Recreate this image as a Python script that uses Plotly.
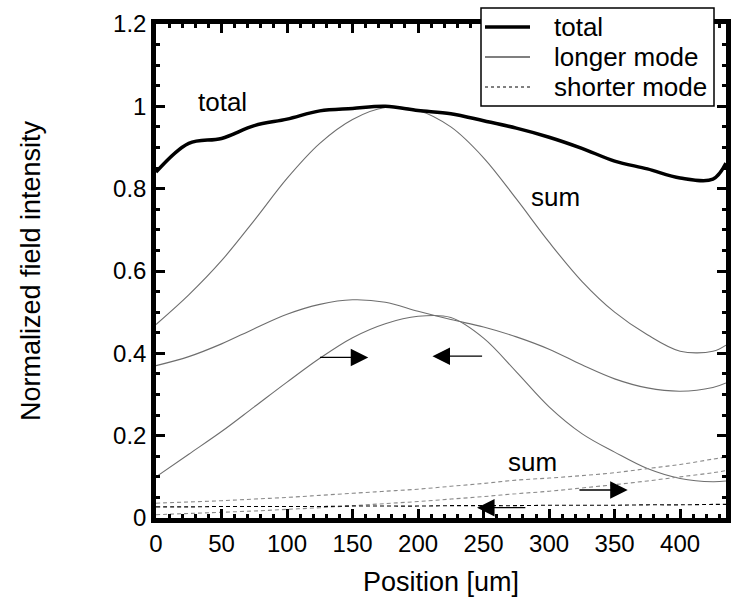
import plotly.graph_objects as go

# ---- data ----
pos = [0, 25, 50, 75, 100, 125, 150, 175, 200, 225, 250, 275, 300, 325, 350, 375, 400, 425, 435]

total = [0.84, 0.91, 0.922, 0.953, 0.969, 0.989, 0.995, 1.0, 0.99, 0.982, 0.965, 0.947, 0.925, 0.898,
         0.867, 0.848, 0.826, 0.823, 0.862]

longer_sum = [0.47, 0.542, 0.625, 0.723, 0.825, 0.91, 0.968, 0.997, 0.99, 0.95, 0.875, 0.775, 0.67, 0.575,
              0.50, 0.445, 0.405, 0.405, 0.42]
longer_fwd = [0.37, 0.392, 0.423, 0.46, 0.495, 0.519, 0.53, 0.524, 0.502, 0.482, 0.464, 0.44, 0.41, 0.372,
              0.338, 0.316, 0.308, 0.317, 0.328]
longer_bwd = [0.10, 0.155, 0.21, 0.27, 0.33, 0.388, 0.438, 0.472, 0.49, 0.487, 0.437, 0.355, 0.27, 0.205,
              0.16, 0.12, 0.096, 0.088, 0.09]

shorter_sum = [0.036, 0.039, 0.042, 0.046, 0.05, 0.055, 0.06, 0.065, 0.07, 0.077, 0.084, 0.092, 0.097,
               0.103, 0.11, 0.12, 0.13, 0.143, 0.148]
shorter_fwd = [0.008, 0.011, 0.014, 0.017, 0.021, 0.025, 0.03, 0.035, 0.04, 0.046, 0.052, 0.059, 0.065,
               0.073, 0.081, 0.09, 0.10, 0.11, 0.115]
shorter_bwd = [0.027, 0.027, 0.028, 0.028, 0.028, 0.028, 0.029, 0.029, 0.029, 0.030, 0.030, 0.030, 0.031,
               0.031, 0.031, 0.032, 0.032, 0.033, 0.033]

# arrows: tail x, head x, y
arrow_tail_x = [124, 250, 322, 283]
arrow_head_x = [162, 211, 360, 245]
arrow_y = [0.39, 0.393, 0.068, 0.025]

# text labels
label_text = ["total", "sum", "sum"]
label_x = [50.6, 305, 287]
label_y = [1.01, 0.78, 0.137]

legend_names = ["total", "longer mode", "shorter mode"]
x_ticks = [0, 50, 100, 150, 200, 250, 300, 350, 400]
y_ticks = [0, 0.2, 0.4, 0.6, 0.8, 1.0, 1.2]
y_tick_text = ["0", "0.2", "0.4", "0.6", "0.8", "1", "1.2"]

FONT = "Liberation Sans, Arial, sans-serif"
GRAY = "#6e6e6e"

fig = go.Figure()

for ys in (longer_sum, longer_fwd, longer_bwd):
    fig.add_trace(go.Scatter(x=pos, y=ys, mode="lines", line=dict(color=GRAY, width=1.1, shape="spline"),
                             showlegend=False, hoverinfo="skip"))
for ys, col in ((shorter_sum, "#8a8a8a"), (shorter_fwd, "#8a8a8a"), (shorter_bwd, "black")):
    fig.add_trace(go.Scatter(x=pos, y=ys, mode="lines",
                             line=dict(color=col, width=1.1, dash="4px,3px", shape="spline"),
                             showlegend=False, hoverinfo="skip"))
fig.add_trace(go.Scatter(x=pos, y=total, mode="lines", line=dict(color="black", width=3.5, shape="spline"),
                         showlegend=False, hoverinfo="skip"))

# arrows
for tx, hx, ay in zip(arrow_tail_x, arrow_head_x, arrow_y):
    fig.add_annotation(x=hx, y=ay, ax=tx, ay=ay, xref="x", yref="y", axref="x", ayref="y",
                       showarrow=True, arrowhead=2, arrowsize=2.7, arrowwidth=1.3, arrowcolor="black",
                       text="")

for t, lx, ly in zip(label_text, label_x, label_y):
    fig.add_annotation(x=lx, y=ly, text=t, showarrow=False, font=dict(size=26, color="black", family=FONT))

# ---- legend box (drawn in paper coordinates, above the axes) ----
L, R, T, B = 156, 726, 24, 518      # plot area in px
def px(x):
    return (x - L) / (R - L)
def py(y):
    return (B - y) / (B - T)

fig.add_shape(type="rect", xref="paper", yref="paper", x0=px(481), x1=px(714), y0=py(106), y1=py(8),
              line=dict(color="black", width=1.5), fillcolor="white", layer="above")
legend_styles = [dict(color="black", width=3.5), dict(color="black", width=1.2),
                 dict(color="black", width=1, dash="dot")]
legend_rows = [27, 57, 87]
for name, st, row in zip(legend_names, legend_styles, legend_rows):
    fig.add_shape(type="line", xref="paper", yref="paper", x0=px(485), x1=px(530), y0=py(row), y1=py(row),
                  line=st, layer="above")
    fig.add_annotation(xref="paper", yref="paper", x=px(552), y=py(row), text=name, showarrow=False,
                       xanchor="left", yanchor="middle", font=dict(size=26, color="black", family=FONT))

axis_common = dict(showline=True, linecolor="black", linewidth=4.5, mirror="ticks",
                   ticks="inside", ticklen=9, tickwidth=2.5, tickcolor="black",
                   showgrid=False, zeroline=False,
                   tickfont=dict(size=24, color="black", family=FONT))

fig.update_xaxes(range=[0, 435], tickvals=x_ticks,
                 minor=dict(ticks="inside", ticklen=4.5, tickwidth=2.5, tickcolor="black", dtick=10, tick0=0),
                 title=dict(text="Position [um]", font=dict(size=27, color="black", family=FONT), standoff=18),
                 **axis_common)
fig.update_yaxes(range=[0, 1.2], tickvals=y_ticks, ticktext=y_tick_text,
                 minor=dict(ticks="inside", ticklen=4.5, tickwidth=2.5, tickcolor="black", dtick=0.05, tick0=0),
                 title=dict(text="Normalized field intensity", font=dict(size=27, color="black", family=FONT),
                            standoff=66),
                 **axis_common)

fig.update_layout(
    width=731, height=613,
    margin=dict(l=L, r=731 - R, t=T, b=613 - B, autoexpand=False),
    paper_bgcolor="white", plot_bgcolor="white",
    font=dict(family=FONT, color="black"),
    showlegend=False,
)

fig.write_html("out.html")
